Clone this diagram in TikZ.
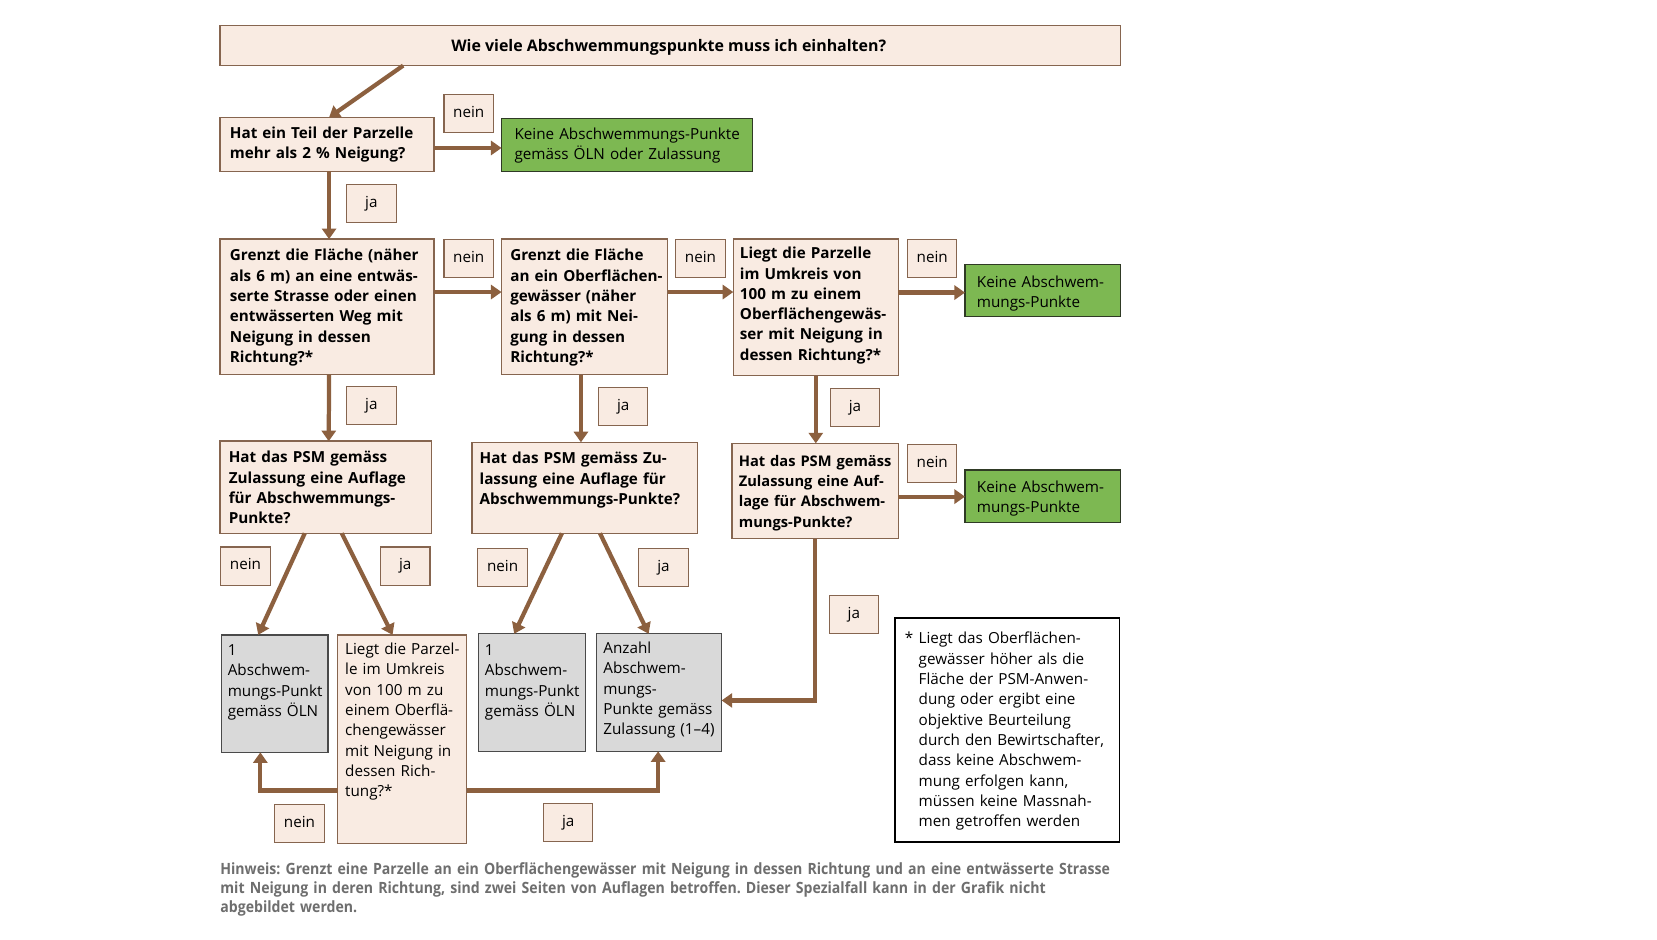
\documentclass[tikz,border=0pt]{standalone}
\usepackage{fontspec}
\setmainfont{Open Sans}
\newfontfamily\notefont[FakeStretch=0.908]{Open Sans}
\usetikzlibrary{arrows.meta}
\frenchspacing
\definecolor{pinkfill}{HTML}{F9EBE2}
\definecolor{pinkline}{HTML}{86654F}
\definecolor{arrowc}{HTML}{8C603F}
\definecolor{greenfill}{HTML}{7DB852}
\definecolor{greenline}{HTML}{2F3A25}
\definecolor{grayfill}{HTML}{D9D9D9}
\definecolor{grayline}{HTML}{4A4A4A}
\definecolor{notegray}{HTML}{6E6E6E}
\newcommand\fs{\fontsize{10.8}{14.4}\selectfont}
\newcommand\bx[6]{\node[#2, minimum width={(#5-#3)*0.75pt}, minimum height={(#6-#4)*0.75pt}] (#1) at (#3,#4) {};}
\tikzset{
  boxbase/.style={outer sep=0pt, inner sep=0pt, anchor=north west},
  qbox/.style={boxbase, fill=pinkfill, draw=pinkline, line width=1.1pt},
  gbox/.style={boxbase, fill=greenfill, draw=greenline, line width=1.1pt},
  rbox/.style={boxbase, fill=grayfill, draw=grayline, line width=0.9pt},
  fnbox/.style={boxbase, fill=white, draw=black, line width=1.1pt},
  lbl/.style={draw=pinkline, fill=pinkfill, line width=0.8pt, minimum width=35pt, minimum height=27pt, inner sep=0pt, text height=8pt, text depth=2.5pt, font=\fs},
  arr/.style={draw=arrowc, line width=3pt, -{Triangle[length=7.5pt,width=10pt]}},
  txt/.style={anchor=base west, inner sep=0pt, align=left, text width=250pt, font=\fs},
  btxt/.style={txt, font=\fs\bfseries}
}
\begin{document}
\begin{tikzpicture}[x=0.75pt, y=-0.75pt]
\useasboundingbox (0,0) rectangle (1566,887.5);
\fill[white] (0,0) rectangle (1566,887.5);
% boxes
\bx{top}{qbox}{208}{24}{1059}{62}
\bx{q1}{qbox}{208}{111}{410}{162}
\bx{g1}{gbox}{474}{112}{711}{162}
\bx{q2}{qbox}{208}{226}{410}{354}
\bx{q3}{qbox}{474}{226}{631}{354}
\bx{q4}{qbox}{693}{226}{849}{355}
\bx{g2}{gbox}{912}{250}{1059}{299}
\bx{q5}{qbox}{208}{417}{408}{504}
\bx{q6}{qbox}{446}{418}{659}{504}
\bx{q7}{qbox}{692}{419}{849}{509}
\bx{g3}{gbox}{912}{444}{1059}{494}
\bx{r1}{rbox}{209}{600}{310}{711}
\bx{q8}{qbox}{319}{600}{441}{797}
\bx{r2}{rbox}{452}{599}{553}{710}
\bx{r3}{rbox}{564}{599}{682}{710}
\bx{fn}{fnbox}{846}{584}{1058}{796}
% texts
\node[font=\fontsize{11.3}{14.4}\selectfont\bfseries, inner sep=0pt] (ttop) at (632,44.5) {Wie viele Abschwemmungspunkte muss ich einhalten?};
\node[btxt] (tq1) at (217,130.5) {Hat ein Teil der Parzelle\\mehr als 2 \% Neigung?};
\node[txt] (tg1) at (486,131.5) {Keine Abschwemmungs-Punkte\\gemäss ÖLN oder Zulassung};
\node[btxt] (tq2) at (217,246.5) {Grenzt die Fläche (näher\\als 6 m) an eine entwäs-\\serte Strasse oder einen\\entwässerten Weg mit\\Neigung in dessen\\Richtung?*};
\node[btxt] (tq3) at (482,246.5) {Grenzt die Fläche\\an ein Oberflächen-\\gewässer (näher\\als 6 m) mit Nei-\\gung in dessen\\Richtung?*};
\node[btxt] (tq4) at (699,244.5) {Liegt die Parzelle\\im Umkreis von\\100 m zu einem\\Oberflächengewäs-\\ser mit Neigung in\\dessen Richtung?*};
\node[txt] (tg2) at (923,271.5) {Keine Abschwem-\\mungs-Punkte};
\node[btxt] (tq5) at (216,437.5) {Hat das PSM gemäss\\Zulassung eine Auflage\\für Abschwemmungs-\\Punkte?};
\node[btxt] (tq6) at (453,438.5) {Hat das PSM gemäss Zu-\\lassung eine Auflage für\\Abschwemmungs-Punkte?};
\node[btxt, font=\fontsize{10.4}{14.4}\selectfont\bfseries] (tq7) at (698,440.5) {Hat das PSM gemäss\\Zulassung eine Auf-\\lage für Abschwem-\\mungs-Punkte?};
\node[txt] (tg3) at (923,465.5) {Keine Abschwem-\\mungs-Punkte};
\node[txt] (tr1) at (215,619.5) {1\\Abschwem-\\mungs-Punkt\\gemäss ÖLN};
\node[txt] (tq8) at (326,618.5) {Liegt die Parzel-\\le im Umkreis\\von 100 m zu\\einem Oberflä-\\chengewässer\\mit Neigung in\\dessen Rich-\\tung?*};
\node[txt] (tr2) at (458,619.5) {1\\Abschwem-\\mungs-Punkt\\gemäss ÖLN};
\node[txt] (tr3) at (570,617.5) {Anzahl\\Abschwem-\\mungs-\\Punkte gemäss\\Zulassung (1–4)};
\node[txt] (tstar) at (855,608.5) {*};
\node[txt] (tfn) at (868,608.5) {Liegt das Oberflächen-\\gewässer höher als die\\Fläche der PSM-Anwen-\\dung oder ergibt eine\\objektive Beurteilung\\durch den Bewirtschafter,\\dass keine Abschwem-\\mung erfolgen kann,\\müssen keine Massnah-\\men getroffen werden};
\node[anchor=base west, inner sep=0pt, align=left, text width=700pt, text=notegray, font=\notefont\bfseries\fontsize{11}{13.5}\selectfont] (note) at (208,826) {Hinweis: Grenzt eine Parzelle an ein Oberflächengewässer mit Neigung in dessen Richtung und an eine entwässerte Strasse\\mit Neigung in deren Richtung, sind zwei Seiten von Auflagen betroffen. Dieser Spezialfall kann in der Grafik nicht\\abgebildet werden.};
% labels
\node[lbl] (l1) at (443,107) {nein};
\node[lbl] (l2) at (351,192) {ja};
\node[lbl] (l3) at (443,244) {nein};
\node[lbl] (l4) at (662,244) {nein};
\node[lbl] (l5) at (881,244) {nein};
\node[lbl] (l6) at (351,383) {ja};
\node[lbl] (l7) at (589,384) {ja};
\node[lbl] (l8) at (808,385) {ja};
\node[lbl] (l9) at (881,438) {nein};
\node[lbl] (l10) at (232,535) {nein};
\node[lbl] (l11) at (383,535) {ja};
\node[lbl] (l12) at (475,536) {nein};
\node[lbl] (l13) at (627,536) {ja};
\node[lbl] (l14) at (807,581) {ja};
\node[lbl] (l15) at (283,778) {nein};
\node[lbl] (l16) at (537,777) {ja};
% arrows
\draw[arr] ([xshift=129.75pt]top.south west) -- ([xshift=1.5pt]q1.north);
\draw[arr] ([yshift=-2.5pt]q1.east) -- ([yshift=-2.5pt]q1.east -| g1.west);
\draw[arr] ([xshift=1.5pt]q1.south) -- ([xshift=1.5pt]q2.north);
\draw[arr] ([yshift=10.5pt]q2.east) -- ([yshift=10.5pt]q2.east -| q3.west);
\draw[arr] ([yshift=10.5pt]q3.east) -- ([yshift=10.5pt]q3.east -| q4.west);
\draw[arr] ([yshift=10.5pt]q4.east) -- ([yshift=10.5pt]q4.east -| g2.west);
\draw[arr] ([xshift=1.5pt]q2.south) -- ([xshift=2pt]q5.north);
\draw[arr] ([xshift=-2.6pt]q3.south) -- ([xshift=-2.6pt]q6.north);
\draw[arr] (q4.south) -- (q4.south |- q7.north);
\draw[arr] ([yshift=-4pt]q7.east) -- ([yshift=-4pt]q7.east -| g3.west);
\draw[arr] ([xshift=-15pt]q5.south) -- ([xshift=-11.6pt]r1.north);
\draw[arr] ([xshift=11.25pt]q5.south) -- ([xshift=-6.75pt]q8.north);
\draw[arr] ([xshift=-16.1pt]q6.south) -- ([xshift=-12.4pt]r2.north);
\draw[arr] ([xshift=10.9pt]q6.south) -- ([xshift=-7.5pt]r3.north);
\draw[arr] (q7.south) |- ([yshift=-5.6pt]r3.east);
\draw[arr] ([yshift=-36.4pt]q8.west) -| ([xshift=-10.1pt]r1.south);
\draw[arr] ([yshift=-36.4pt]q8.east) -| ([xshift=-0.75pt]r3.south);
\end{tikzpicture}
\end{document}
